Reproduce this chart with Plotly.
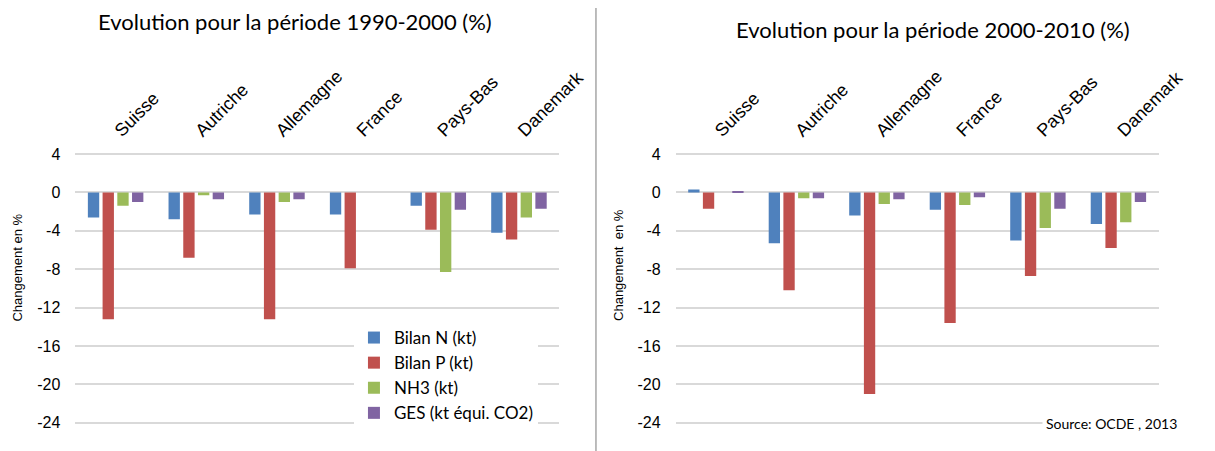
import plotly.graph_objects as go

categories = ["Suisse", "Autriche", "Allemagne", "France", "Pays-Bas", "Danemark"]
series_names = ["Bilan N (kt)", "Bilan P (kt)", "NH3 (kt)", "GES (kt équi. CO2)"]
colors = ["#4F81BD", "#C0504D", "#9BBB59", "#8064A2"]

# Evolution 1990-2000 (%)
p1_bilan_n = [-2.6, -2.8, -2.3, -2.3, -1.4, -4.2]
p1_bilan_p = [-13.2, -6.8, -13.2, -7.9, -3.9, -4.9]
p1_nh3 = [-1.4, -0.3, -1.0, None, -8.3, -2.6]
p1_ges = [-1.0, -0.7, -0.7, None, -1.8, -1.7]

# Evolution 2000-2010 (%)
p2_bilan_n = [0.3, -5.3, -2.4, -1.8, -5.0, -3.3]
p2_bilan_p = [-1.7, -10.2, -21.0, -13.6, -8.7, -5.8]
p2_nh3 = [0.0, -0.6, -1.2, -1.3, -3.7, -3.1]
p2_ges = [0.1, -0.6, -0.7, -0.5, -1.7, -1.0]

y_ticks = [4, 0, -4, -8, -12, -16, -20, -24]
y_ticktext = ["4", "0", "-4", "-8", "-12", "-16", "-20", "-24"]
title1 = "Evolution pour la période 1990-2000 (%)"
title2 = "Evolution pour la période 2000-2010 (%)"
y_title1 = "Changement en %"
y_title2 = "Changement  en %"
source_text = "Source: OCDE , 2013"

W, H = 1215, 451
fig = go.Figure()

p1 = [p1_bilan_n, p1_bilan_p, p1_nh3, p1_ges]
p2 = [p2_bilan_n, p2_bilan_p, p2_nh3, p2_ges]
for i, name in enumerate(series_names):
    fig.add_trace(go.Bar(x=categories, y=p1[i], name=name, marker_color=colors[i],
                         marker_line_width=0, xaxis="x", yaxis="y", legendgroup=name))
for i, name in enumerate(series_names):
    fig.add_trace(go.Bar(x=categories, y=p2[i], name=name, marker_color=colors[i],
                         marker_line_width=0, xaxis="x2", yaxis="y2", legendgroup=name,
                         showlegend=False))

yrange = [-25.89, 4.94]
ARIAL = "Arial"
tickfont = dict(family=ARIAL, size=16, color="#000000")
catfont = dict(family=ARIAL, size=18, color="#000000")

xcommon = dict(side="top", tickangle=-45, tickfont=catfont, showgrid=False, showline=False,
               ticks="", zeroline=False, fixedrange=True)
ycommon = dict(range=yrange, tickvals=y_ticks, ticktext=y_ticktext, tickfont=tickfont,
               showgrid=True, gridcolor="#D9D9D9", gridwidth=1.5, zeroline=False,
               showline=False, ticks="", ticklabelstandoff=14, fixedrange=True)

fig.update_layout(
    width=W, height=H, autosize=False,
    margin=dict(l=0, r=0, t=145, b=10),
    paper_bgcolor="white", plot_bgcolor="white",
    barmode="group", bargap=0.27, bargroupgap=0.23,
    xaxis=dict(domain=[77 / W, 572 / W], anchor="y", **xcommon),
    yaxis=dict(anchor="x", **ycommon),
    xaxis2=dict(domain=[691 / W, 1185 / W], anchor="y2", **xcommon),
    yaxis2=dict(anchor="x2", **ycommon),
    legend=dict(x=362 / W, xanchor="left", y=(441 - 320) / 296, yanchor="top",
                bgcolor="white", font=dict(family="Lato", size=17, color="#000000"),
                tracegroupgap=0, itemclick=False),
    showlegend=True,
    font=dict(family=ARIAL),
)

title_font = dict(family="Lato", size=22, color="#000000")
fig.add_annotation(text=title1, xref="paper", yref="paper", x=302 / W,
                   y=1 + (145 - 22) / 296, xanchor="center", yanchor="middle",
                   showarrow=False, font=title_font)
fig.add_annotation(text=title2, xref="paper", yref="paper", x=954 / W,
                   y=1 + (145 - 30) / 296, xanchor="center", yanchor="middle",
                   showarrow=False, font=title_font)

ytfont = dict(family=ARIAL, size=13, color="#000000")
fig.add_annotation(text=y_title1, xref="paper", yref="paper", x=17 / W,
                   y=(441 - 268) / 296, xanchor="center", yanchor="middle",
                   textangle=-90, showarrow=False, font=ytfont)
fig.add_annotation(text=y_title2, xref="paper", yref="paper", x=632 / W,
                   y=(441 - 265) / 296, xanchor="center", yanchor="middle",
                   textangle=-90, showarrow=False, font=ytfont)

fig.add_annotation(text=source_text, xref="paper", yref="paper", x=1066 / W,
                   y=(441 - 423) / 296, xanchor="left", yanchor="middle",
                   showarrow=False, bgcolor="white", borderpad=3,
                   font=dict(family="Lato", size=14, color="#000000"))

fig.add_shape(type="line", xref="paper", yref="paper", x0=609.5 / W, x1=609.5 / W,
              y0=-10 / 296, y1=1 + (145 - 8) / 296,
              line=dict(color="#A6A6A6", width=1.5))

fig.write_html("out.html",
               config={"responsive": False, "displayModeBar": False},
               post_script="document.body.style.margin='0px';document.body.style.overflow='hidden';")
